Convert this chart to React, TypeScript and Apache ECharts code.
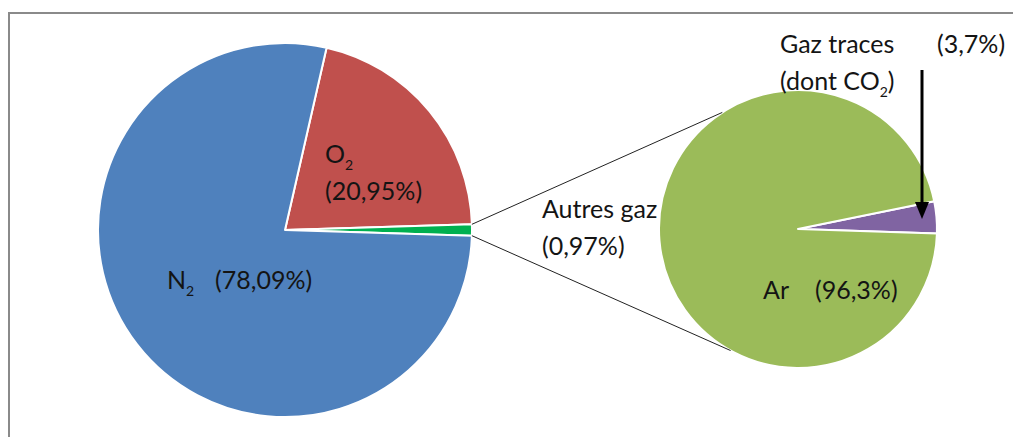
import React, { useEffect, useRef } from "react";
import * as echarts from "echarts";

// ---- data ----
const mainNames = ["O2", "Autres gaz", "N2"];
const mainValues = [20.95, 0.97, 78.09];
const subNames = ["Gaz traces", "Ar"];
const subValues = [3.7, 96.3];

// ---- styles ----
const mainColors = ["#C0504D", "#00B050", "#4F81BD"];
const subColors = ["#8064A2", "#9BBB59"];
const FONT = "Lato, 'Open Sans', sans-serif";
const TXT = "#141414";

const MAIN_CENTER = [285, 230];
const MAIN_R = 187;
const SUB_CENTER = [798, 229];
const SUB_R = 139;
const SUB_START = 11.5;

// label top-left anchors (by name)
const labelAnchor: Record<string, [number, number]> = {
  O2: [325, 134],
  "Autres gaz": [542, 189],
  N2: [167, 260],
  "Gaz traces": [780, 24],
  Ar: [763, 270],
};

const fmt = (v: number) => "(" + String(v).replace(".", ",") + "%)";

const mainLabel = (name: string, v: number) => {
  if (name === "O2") return "{n|O}{s|2}\n{n|" + fmt(v) + "}";
  if (name === "N2") return "{n|N}{sw|2}{n|" + fmt(v) + "}";
  return "{n|" + name + "}\n{n|" + fmt(v) + "}";
};
const subLabel = (name: string, v: number) => {
  if (name === "Gaz traces")
    return "{gt|Gaz traces}{n|" + fmt(v) + "}\n{n|(dont CO}{s|2}{n|)}";
  return "{aw|" + name + "}{n|" + fmt(v) + "}";
};

const FS = 25;
const rich = {
  n: { fontFamily: FONT, fontSize: FS, color: TXT, lineHeight: 37 },
  s: { fontFamily: FONT, fontSize: 14, color: TXT, lineHeight: 37, verticalAlign: "bottom" },
  sw: { fontFamily: FONT, fontSize: 14, color: TXT, lineHeight: 37, verticalAlign: "bottom", width: 29 },
  gt: { fontFamily: FONT, fontSize: FS, color: TXT, lineHeight: 34, width: 157 },
  aw: { fontFamily: FONT, fontSize: FS, color: TXT, lineHeight: 37, width: 52 },
};

export default function App() {
  const ref = useRef<HTMLDivElement>(null);
  useEffect(() => {
    document.body.style.margin = "0";
    if (!ref.current) return;
    const chart = echarts.init(ref.current, null, { renderer: "svg" });

    const total = mainValues.reduce((a, b) => a + b, 0);
    const otherHalf = (mainValues[1] / total) * 360 / 2;
    const mainStart = (mainValues[0] / total) * 360 + otherHalf;
    const rad = Math.PI / 180;
    const pL = (ang: number) => [
      MAIN_CENTER[0] + MAIN_R * Math.cos(ang * rad),
      MAIN_CENTER[1] - MAIN_R * Math.sin(ang * rad),
    ];
    const pR = (ang: number) => [
      SUB_CENTER[0] + SUB_R * Math.cos(ang * rad),
      SUB_CENTER[1] - SUB_R * Math.sin(ang * rad),
    ];
    const a1 = pL(otherHalf);
    const a2 = pL(-otherHalf);
    const b1 = pR(123);
    const b2 = pR(-119);

    const layout = (p: any) => {
      const name = p.seriesIndex === 0 ? mainNames[p.dataIndex] : subNames[p.dataIndex];
      const a = labelAnchor[name];
      return { x: a[0], y: a[1], align: "left", verticalAlign: "top" };
    };

    chart.setOption({
      animation: false,
      backgroundColor: "#ffffff",
      graphic: [
        {
          type: "rect",
          z: 0,
          shape: { x: 9, y: 13, width: 1030, height: 460 },
          style: { fill: "none", stroke: "#8a8a8a", lineWidth: 2 },
        },
        {
          type: "line",
          z: 100,
          shape: { x1: a1[0], y1: a1[1], x2: b1[0], y2: b1[1] },
          style: { stroke: "#222", lineWidth: 1 },
        },
        {
          type: "line",
          z: 100,
          shape: { x1: a2[0], y1: a2[1], x2: b2[0], y2: b2[1] },
          style: { stroke: "#222", lineWidth: 1 },
        },
        {
          type: "line",
          z: 100,
          shape: { x1: 922, y1: 70, x2: 922, y2: 205 },
          style: { stroke: "#000", lineWidth: 3 },
        },
        {
          type: "polygon",
          z: 100,
          shape: { points: [[915, 202], [929, 202], [922, 219]] },
          style: { fill: "#000" },
        },
      ],
      series: [
        {
          type: "pie",
          center: MAIN_CENTER,
          radius: MAIN_R,
          startAngle: mainStart,
          clockwise: true,
          avoidLabelOverlap: false,
          silent: true,
          itemStyle: { borderColor: "#ffffff", borderWidth: 2 },
          label: {
            show: true,
            position: "inside",
            formatter: (p: any) => mainLabel(p.name, p.value),
            rich,
          },
          labelLine: { show: false },
          labelLayout: layout,
          data: mainNames.map((n, i) => ({
            name: n,
            value: mainValues[i],
            itemStyle: { color: mainColors[i] },
          })),
        },
        {
          type: "pie",
          center: SUB_CENTER,
          radius: SUB_R,
          startAngle: SUB_START,
          clockwise: true,
          avoidLabelOverlap: false,
          silent: true,
          itemStyle: { borderColor: "#ffffff", borderWidth: 2 },
          label: {
            show: true,
            position: "inside",
            formatter: (p: any) => subLabel(p.name, p.value),
            rich,
          },
          labelLine: { show: false },
          labelLayout: layout,
          data: subNames.map((n, i) => ({
            name: n,
            value: subValues[i],
            itemStyle: { color: subColors[i] },
          })),
        },
      ],
    });
    return () => chart.dispose();
  }, []);
  return <div ref={ref} style={{ width: 1013, height: 437 }} />;
}
